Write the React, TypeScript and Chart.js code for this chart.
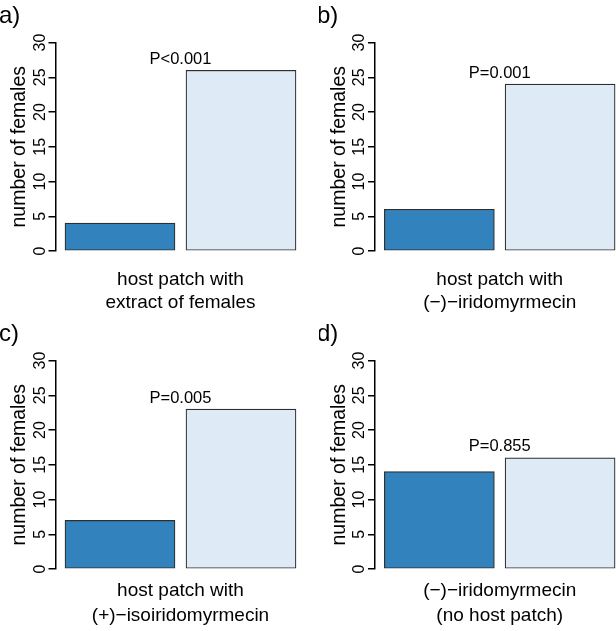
import React, { useEffect, useRef } from "react";
import { Chart, registerables } from "chart.js";

Chart.register(...registerables);

// ---- data ----
const panelLetters = ["a)", "b)", "c)", "d)"];
const treatmentCounts = [4, 6, 7, 14];
const controlCounts = [26, 24, 23, 16];
const pValueLabels = ["P<0.001", "P=0.001", "P=0.005", "P=0.855"];
const xLabelLines = [
  ["host patch with", "extract of females"],
  ["host patch with", "(\u2212)\u2212iridomyrmecin"],
  ["host patch with", "(+)\u2212isoiridomyrmecin"],
  ["(\u2212)\u2212iridomyrmecin", "(no host patch)"],
];
const yTickValues = [0, 5, 10, 15, 20, 25, 30];
const yAxisTitle = "number of females";

const DARK = "#3182bd";
const LIGHT = "#deebf7";
const FONT = "'Liberation Sans', Arial, Helvetica, sans-serif";

type PanelProps = { idx: number };

function Panel({ idx }: PanelProps) {
  const ref = useRef<HTMLCanvasElement | null>(null);
  const col = idx % 2;
  const row = Math.floor(idx / 2);
  const left = col * 319;
  const top = row * 318;
  const width = col === 0 ? 319 : 297;
  const height = row === 0 ? 318 : 313;
  const axisX = col === 0 ? 55.5 : 56;
  const xMin = 0.467;
  const xMax = col === 0 ? 2.529 : 2.463;
  const padRight = col === 0 ? 319 - 305 : 0;
  const label1Off = row === 0 ? 34 : 27;
  const label2Off = row === 0 ? 57 : 52;

  useEffect(() => {
    if (!ref.current) return;
    const overlay = {
      id: "overlay" + idx,
      afterDraw(chart: any) {
        const ctx = chart.ctx as CanvasRenderingContext2D;
        const y = chart.scales.y;
        const x = chart.scales.x;
        const ca = chart.chartArea;
        ctx.save();
        ctx.fillStyle = "#000";
        // rotated y tick labels
        ctx.font = `16px ${FONT}`;
        ctx.textAlign = "center";
        ctx.textBaseline = "alphabetic";
        for (const v of yTickValues) {
          const py = y.getPixelForValue(v);
          ctx.save();
          ctx.translate(ca.left - 11, py);
          ctx.rotate(-Math.PI / 2);
          ctx.fillText(String(v), 0, 0);
          ctx.restore();
        }
        // y title
        ctx.font = `19.5px ${FONT}`;
        ctx.save();
        ctx.translate(ca.left - 30.5, (ca.top + ca.bottom) / 2);
        ctx.rotate(-Math.PI / 2);
        ctx.fillText(yAxisTitle, 0, 0);
        ctx.restore();
        // p value
        const mid = x.getPixelForValue(1.5);
        const maxV = Math.max(treatmentCounts[idx], controlCounts[idx]);
        ctx.font = `16.5px ${FONT}`;
        ctx.fillText(pValueLabels[idx], mid, y.getPixelForValue(maxV) - 6.5);
        // x label lines
        ctx.font = `19px ${FONT}`;
        ctx.fillText(xLabelLines[idx][0], mid, ca.bottom + label1Off);
        ctx.fillText(xLabelLines[idx][1], mid, ca.bottom + label2Off);
        // panel letter
        ctx.font = `24px ${FONT}`;
        ctx.textAlign = "left";
        ctx.fillText(panelLetters[idx], col === 0 ? -1 : -2, 23);
        ctx.restore();
      },
    };
    const chart = new Chart(ref.current, {
      type: "bar",
      data: {
        datasets: [
          {
            data: [
              { x: 1, y: treatmentCounts[idx] },
              { x: 2, y: controlCounts[idx] },
            ],
            backgroundColor: [DARK, LIGHT],
            borderColor: "#2e2e2e",
            borderWidth: 1.2,
            borderSkipped: false,
            barThickness: 110,
          } as any,
        ],
      },
      options: {
        animation: false,
        responsive: false,
        maintainAspectRatio: false,
        devicePixelRatio: 1,
        layout: {
          padding: { left: 0, right: padRight, top: 42.5, bottom: height - 251 },
        },
        plugins: {
          legend: { display: false },
          tooltip: { enabled: false },
          title: { display: false },
        },
        scales: {
          x: {
            type: "linear",
            display: false,
            offset: false,
            grid: { offset: false },
            min: xMin,
            max: xMax,
          },
          y: {
            min: 0,
            max: 30,
            ticks: { stepSize: 5, display: false },
            grid: {
              drawOnChartArea: false,
              drawTicks: true,
              tickLength: 7,
              color: "#000",
              lineWidth: 1.5,
            },
            border: { display: true, color: "#000", width: 1.5 },
            afterFit: (s: any) => {
              s.width = axisX;
            },
          },
        },
      } as any,
      plugins: [overlay],
    });
    return () => chart.destroy();
  }, [idx]);

  return (
    <canvas
      ref={ref}
      width={width}
      height={height}
      style={{ position: "absolute", left, top, width, height }}
    />
  );
}

export default function App() {
  return (
    <div
      style={{
        position: "absolute",
        left: 0,
        top: 0,
        width: 616,
        height: 631,
        background: "#fff",
        overflow: "hidden",
      }}
    >
      {[0, 1, 2, 3].map((i) => (
        <Panel key={i} idx={i} />
      ))}
    </div>
  );
}
